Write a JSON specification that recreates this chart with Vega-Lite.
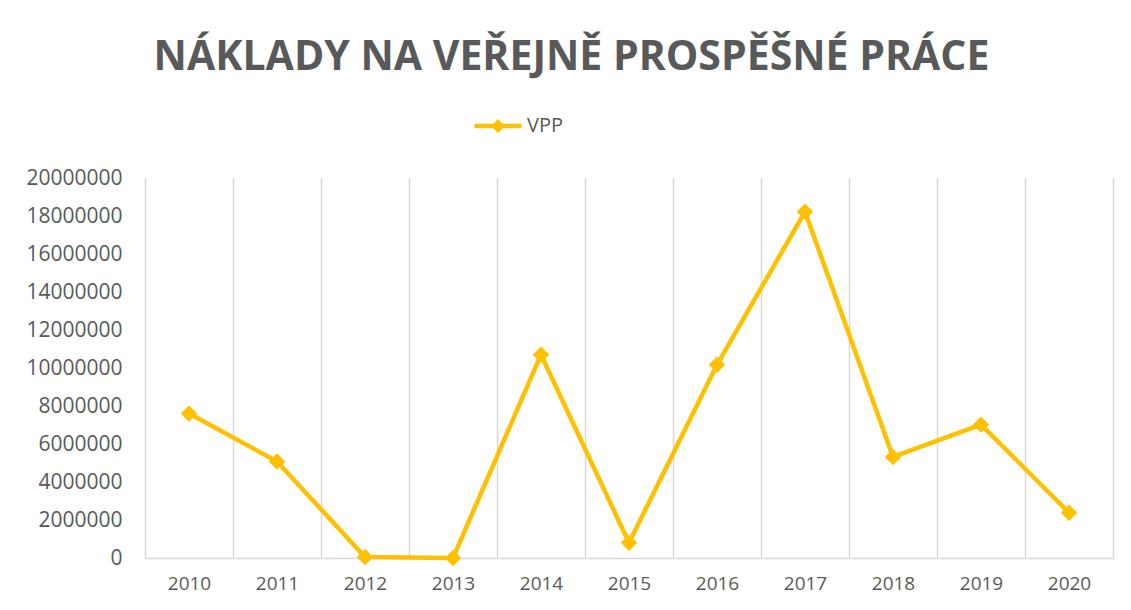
{
  "$schema": "https://vega.github.io/schema/vega-lite/v6.json",
  "width": 968,
  "height": 380,
  "autosize": {"type": "none"},
  "padding": {"left": 145, "top": 178, "right": 18, "bottom": 52},
  "background": "white",
  "title": {
    "text": "NÁKLADY NA VEŘEJNĚ PROSPĚŠNÉ PRÁCE",
    "font": "Open Sans",
    "fontSize": 41,
    "fontWeight": "bold",
    "color": "#595959",
    "anchor": "middle",
    "frame": "bounds",
    "offset": 37,
    "dx": 2
  },
  "config": {"view": {"stroke": null}},
  "data": {
    "values": [
      {"year": "2010", "value": 7600000, "series": "VPP"},
      {"year": "2011", "value": 5080000, "series": "VPP"},
      {"year": "2012", "value": 50000, "series": "VPP"},
      {"year": "2013", "value": 0, "series": "VPP"},
      {"year": "2014", "value": 10700000, "series": "VPP"},
      {"year": "2015", "value": 800000, "series": "VPP"},
      {"year": "2016", "value": 10170000, "series": "VPP"},
      {"year": "2017", "value": 18230000, "series": "VPP"},
      {"year": "2018", "value": 5320000, "series": "VPP"},
      {"year": "2019", "value": 7020000, "series": "VPP"},
      {"year": "2020", "value": 2380000, "series": "VPP"}
    ]
  },
  "mark": {
    "type": "line",
    "strokeWidth": 4.5,
    "point": {"shape": "diamond", "size": 270, "filled": true, "color": "#FFC000"}
  },
  "encoding": {
    "x": {
      "field": "year",
      "type": "ordinal",
      "scale": {"type": "band", "paddingInner": 0, "paddingOuter": 0},
      "axis": {
        "title": null,
        "tickBand": "extent",
        "grid": true,
        "gridColor": "#d9d9d9",
        "gridWidth": 1.5,
        "ticks": false,
        "domainColor": "#d9d9d9",
        "domainWidth": 1.5,
        "labelAngle": 0,
        "labelPadding": 16,
        "labelFont": "Open Sans",
        "labelFontSize": 19,
        "labelColor": "#595959"
      }
    },
    "y": {
      "field": "value",
      "type": "quantitative",
      "scale": {"domain": [0, 20000000]},
      "axis": {
        "title": null,
        "grid": false,
        "domain": false,
        "ticks": false,
        "values": [0, 2000000, 4000000, 6000000, 8000000, 10000000, 12000000, 14000000, 16000000, 18000000, 20000000],
        "format": "d",
        "labelPadding": 23,
        "labelFont": "Open Sans",
        "labelFontSize": 21,
        "labelColor": "#595959"
      }
    },
    "color": {
      "field": "series",
      "type": "nominal",
      "scale": {"range": ["#FFC000"]},
      "legend": {
        "title": null,
        "orient": "none",
        "legendX": 343,
        "legendY": -62,
        "symbolType": "M-3.36,-0.32H3.36V0.32H-3.36Z M0,-1L1,0L0,1L-1,0Z",
        "symbolSize": 196,
        "symbolFillColor": "#FFC000",
        "symbolStrokeWidth": 0,
        "labelOffset": 19,
        "labelFont": "Open Sans",
        "labelFontSize": 20,
        "labelColor": "#595959"
      }
    }
  }
}
